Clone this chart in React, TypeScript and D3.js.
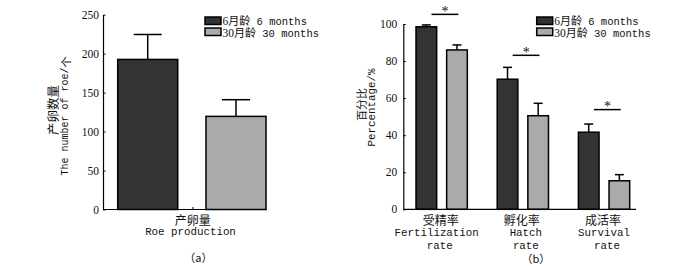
import React, { useEffect, useRef } from "react";
import * as d3 from "d3";

// ---------- data ----------
const seriesKeys = ["6", "30"];
const seriesCn = "月龄";
const seriesEn = [" 6 months", " 30 months"];
const seriesColors = ["#333333", "#aaaaaa"];

const roeMean = [192.6, 119.5];
const roeErr = [32.0, 21.4];
const roeTicks = [0, 50, 100, 150, 200, 250];

const rateCn = ["受精率", "孵化率", "成活率"];
const rateEn1 = ["Fertilization", "Hatch", "Survival"];
const rateEn2 = ["rate", "rate", "rate"];
const rate6 = [98.5, 70.2, 41.6];
const rate6Err = [1.0, 6.4, 4.4];
const rate30 = [86.0, 50.5, 15.4];
const rate30Err = [2.7, 6.7, 3.3];
const sigLevel = [105.2, 83.1, 53.8];
const pctTicks = [0, 20, 40, 60, 80, 100];

const MONO = "'Liberation Mono', 'DejaVu Sans Mono', monospace";
const SERIF = "'Liberation Serif', 'DejaVu Serif', serif";
const CJK = "'Noto Sans CJK SC', sans-serif";

export default function App() {
  const yAxL = useRef<SVGGElement>(null);
  const yAxR = useRef<SVGGElement>(null);

  // left panel scales
  const yL = d3.scaleLinear().domain([0, 250]).range([209.5, 14.7]);
  const xL = d3.scaleBand<string>().domain(seriesKeys).range([117.7, 266]).paddingInner(0.32).paddingOuter(0);
  const axisLx0 = 103;
  const axisLx1 = 267;

  // right panel scales
  const yR = d3.scaleLinear().domain([0, 100]).range([209.3, 24]);
  const x0 = d3.scaleBand<string>().domain(rateCn).range([416, 629.7]).paddingInner(0.368).paddingOuter(0);
  const x1 = d3.scaleBand<string>().domain(seriesKeys).range([0, x0.bandwidth()]).paddingInner(0.326).paddingOuter(0);
  const axisRx0 = 403.3;
  const axisRx1 = 636;

  useEffect(() => {
    const style = (g: d3.Selection<SVGGElement, unknown, null, undefined>) => {
      g.attr("font-family", SERIF).attr("font-size", 11.5);
      g.selectAll("path.domain").attr("stroke", "#000").attr("stroke-width", 1.2);
      g.selectAll(".tick line").attr("stroke", "#000").attr("stroke-width", 1);
      g.selectAll(".tick text").attr("fill", "#111");
    };
    if (yAxL.current) {
      const g = d3.select(yAxL.current);
      g.call(d3.axisLeft(yL).tickValues(roeTicks).tickSizeInner(-2.5).tickSizeOuter(0).tickPadding(4));
      style(g);
    }
    if (yAxR.current) {
      const g = d3.select(yAxR.current);
      g.call(d3.axisLeft(yR).tickValues(pctTicks).tickSizeInner(-2.5).tickSizeOuter(0).tickPadding(6));
      style(g);
    }
  }, []);

  const capL = 28;
  const capR = 9;

  const legend = (x: number) => (
    <g>
      {seriesKeys.map((k, i) => (
        <g key={k}>
          <rect x={x} y={17 + i * 11} width={16} height={7.5} fill={seriesColors[i]} stroke="#000" strokeWidth={1.5} />
          <text x={x + 17.5} y={25 + i * 12} fontSize={10.5} fill="#111">
            <tspan fontFamily={SERIF} fontSize={11.5}>{k}</tspan>
            <tspan fontFamily={CJK} fontSize={11}>{seriesCn}</tspan>
            <tspan fontFamily={MONO} fontSize={10.5} style={{ whiteSpace: "pre" }}>{seriesEn[i]}</tspan>
          </text>
        </g>
      ))}
    </g>
  );

  const groups = rateCn.map((c, i) => ({ c, vals: [rate6[i], rate30[i]], errs: [rate6Err[i], rate30Err[i]], i }));

  return (
    <svg width={700} height={266} style={{ position: "absolute", left: 0, top: 0, background: "#fff" }}>
      <rect x={0} y={0} width={700} height={266} fill="#fff" />
      {/* ---------- left panel ---------- */}
      <g>
        {seriesKeys.map((k, i) => {
          const x = xL(k)!;
          const w = xL.bandwidth();
          const cx = x + w / 2;
          return (
            <g key={k}>
              <line x1={cx} x2={cx} y1={yL(roeMean[i])} y2={yL(roeMean[i] + roeErr[i])} stroke="#000" strokeWidth={1.5} />
              <line x1={cx - capL / 2} x2={cx + capL / 2} y1={yL(roeMean[i] + roeErr[i])} y2={yL(roeMean[i] + roeErr[i])} stroke="#000" strokeWidth={1.5} />
              <rect x={x} y={yL(roeMean[i])} width={w} height={yL(0) - yL(roeMean[i])} fill={seriesColors[i]} stroke="#000" strokeWidth={1.5} />
            </g>
          );
        })}
        <g ref={yAxL} transform={`translate(${axisLx0},0)`} />
        <line x1={axisLx0} x2={axisLx1} y1={yL(0)} y2={yL(0)} stroke="#000" strokeWidth={1.2} />
        <line x1={(axisLx0 + axisLx1) / 2 + 8} x2={(axisLx0 + axisLx1) / 2 + 8} y1={yL(0)} y2={yL(0) - 2.5} stroke="#000" strokeWidth={1} />
        <text transform={`translate(52,110) rotate(-90)`} textAnchor="middle" dominantBaseline="central" fontFamily={CJK} fontSize={12.5} fill="#111">产卵数量</text>
        <text transform={`translate(65.5,116) rotate(-90)`} textAnchor="middle" dominantBaseline="central" fontFamily={MONO} fontSize={10} fill="#111">
          The number of roe/<tspan fontFamily={CJK} fontSize={11}>个</tspan>
        </text>
        <text x={192.7} y={225} textAnchor="middle" fontFamily={CJK} fontSize={12} fill="#111">产卵量</text>
        <text x={190.5} y={235} textAnchor="middle" fontFamily={MONO} fontSize={10.8} fill="#111">Roe production</text>
        <text x={198.3} y={262} textAnchor="middle" fontFamily={CJK} fontSize={11} fill="#111">（a）</text>
        {legend(205)}
      </g>

      {/* ---------- right panel ---------- */}
      <g>
        {groups.map((gp) => {
          const gx = x0(gp.c)!;
          return (
            <g key={gp.c}>
              {seriesKeys.map((k, j) => {
                const x = gx + x1(k)!;
                const w = x1.bandwidth();
                const cx = x + w / 2;
                const top = yR(gp.vals[j] + gp.errs[j]);
                return (
                  <g key={k}>
                    <line x1={cx} x2={cx} y1={yR(gp.vals[j])} y2={top} stroke="#000" strokeWidth={1.5} />
                    <line x1={cx - capR / 2} x2={cx + capR / 2} y1={top} y2={top} stroke="#000" strokeWidth={1.5} />
                    <rect x={x} y={yR(gp.vals[j])} width={w} height={yR(0) - yR(gp.vals[j])} fill={seriesColors[j]} stroke="#000" strokeWidth={1.5} />
                  </g>
                );
              })}
              <line x1={gx + 15.5} x2={gx + 42.3} y1={yR(sigLevel[gp.i])} y2={yR(sigLevel[gp.i])} stroke="#000" strokeWidth={1.5} />
              <text x={gx + 29} y={yR(sigLevel[gp.i]) + 1.5} textAnchor="middle" fontFamily={SERIF} fontSize={14} fill="#111">*</text>
              <text x={gx + x0.bandwidth() / 2 - 1} y={225} textAnchor="middle" fontFamily={CJK} fontSize={12} fill="#111">{gp.c}</text>
              <text x={gx + x0.bandwidth() / 2 + [-5, 3, 0][gp.i]} y={236} textAnchor="middle" fontFamily={MONO} fontSize={10.8} fill="#111">{rateEn1[gp.i]}</text>
              <text x={gx + x0.bandwidth() / 2 + [-2, 3, 3][gp.i]} y={249} textAnchor="middle" fontFamily={MONO} fontSize={10.8} fill="#111">{rateEn2[gp.i]}</text>
            </g>
          );
        })}
        <g ref={yAxR} transform={`translate(${axisRx0},0)`} />
        <line x1={axisRx0} x2={axisRx1} y1={yR(0)} y2={yR(0)} stroke="#000" strokeWidth={1.2} />
        <text transform={`translate(360.7,104.5) rotate(-90)`} textAnchor="middle" dominantBaseline="central" fontFamily={CJK} fontSize={11} fill="#111">百分比</text>
        <text transform={`translate(372,107.5) rotate(-90)`} textAnchor="middle" dominantBaseline="central" fontFamily={MONO} fontSize={10.8} fill="#111">Percentage/%</text>
        <text x={535.8} y={263} textAnchor="middle" fontFamily={CJK} fontSize={11} fill="#111">（b）</text>
        {legend(536.7)}
      </g>
    </svg>
  );
}
